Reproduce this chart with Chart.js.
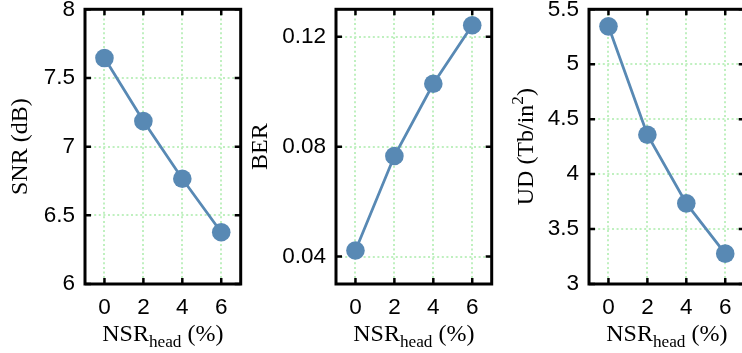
<!DOCTYPE html>
<html><head><meta charset="utf-8">
<script src="https://cdn.jsdelivr.net/npm/chart.js"></script>
<style>
html,body{margin:0;padding:0;width:742px;height:353px;overflow:hidden;background:#fff;}
canvas{position:absolute;top:0;}
</style></head><body>
<canvas id="c1" width="250" height="353" style="left:0px"></canvas>
<canvas id="c2" width="250" height="353" style="left:251px"></canvas>
<canvas id="c3" width="250" height="353" style="left:504px"></canvas>
<script>
// ---- data ----
const nsrHead = [0, 2, 4, 6];
const xTicks = [0, 2, 4, 6];
const xTickLabels = ['0', '2', '4', '6'];
const snrValues = [7.645, 7.186, 6.766, 6.377];
const berValues = [0.0422, 0.0766, 0.1029, 0.1242];
const udValues = [5.345, 4.358, 3.734, 3.276];
const snrTicks = [6, 6.5, 7, 7.5, 8];
const snrTickLabels = ['6', '6.5', '7', '7.5', '8'];
const berTicks = [0.04, 0.08, 0.12];
const berTickLabels = ['0.04', '0.08', '0.12'];
const udTicks = [3, 3.5, 4, 4.5, 5, 5.5];
const udTickLabels = ['3', '3.5', '4', '4.5', '5', '5.5'];
const xTitle = [{t: 'NSR'}, {t: 'head', sub: true}, {t: ' (%)'}];
const snrTitle = [{t: 'SNR (dB)'}];
const berTitle = [{t: 'BER'}];
const udTitle = [{t: 'UD (Tb/in'}, {t: '2', sup: true}, {t: ')'}];

// ---- style ----
const C = '#5889b4';
const G = '#bff0bf';
const TICK_FONT = 'Liberation Sans';
const TICK_SIZE = 22.5;
const TITLE_FONT = 'Liberation Serif';
const TITLE_SIZE = 24;

function segFont(s) {
  const sz = (s.sub || s.sup) ? TITLE_SIZE * 0.72 : TITLE_SIZE;
  return sz + 'px "' + TITLE_FONT + '"';
}
function drawRich(ctx, segs) {
  let w = 0;
  for (const s of segs) { ctx.font = segFont(s); w += ctx.measureText(s.t).width; }
  let x = -w / 2;
  ctx.textAlign = 'left';
  ctx.textBaseline = 'alphabetic';
  for (const s of segs) {
    ctx.font = segFont(s);
    const dy = s.sub ? TITLE_SIZE * 0.24 : (s.sup ? -TITLE_SIZE * 0.4 : 0);
    ctx.fillText(s.t, x, dy);
    x += ctx.measureText(s.t).width;
  }
}

const framePlugin = {
  id: 'frame',
  afterDraw(chart, args, o) {
    const {ctx, chartArea: a, scales: {x, y}} = chart;
    ctx.save();
    ctx.strokeStyle = '#000';
    ctx.lineWidth = 2.5;
    const L = 6;
    ctx.beginPath();
    for (const v of o.xt) {
      const px = x.getPixelForValue(v);
      ctx.moveTo(px, a.bottom); ctx.lineTo(px, a.bottom - L);
      ctx.moveTo(px, a.top); ctx.lineTo(px, a.top + L);
    }
    for (const v of o.yt) {
      const py = y.getPixelForValue(v);
      ctx.moveTo(a.left, py); ctx.lineTo(a.left + L, py);
      ctx.moveTo(a.right, py); ctx.lineTo(a.right - L, py);
    }
    ctx.stroke();
    ctx.lineWidth = 3;
    ctx.strokeRect(a.left, a.top, a.right - a.left, a.bottom - a.top);
    ctx.fillStyle = '#000';
    // x title
    ctx.save();
    ctx.translate((a.left + a.right) / 2, 341);
    drawRich(ctx, xTitle);
    ctx.restore();
    // y title
    ctx.save();
    ctx.translate(a.left - o.yOff, (a.top + a.bottom) / 2);
    ctx.rotate(-Math.PI / 2);
    drawRich(ctx, o.yTitle);
    ctx.restore();
    ctx.restore();
  }
};

function makeChart(id, values, yMin, yMax, yTicks, yLabels, yTitle, yOff) {
  return new Chart(document.getElementById(id), {
    type: 'line',
    data: {
      datasets: [{
        data: nsrHead.map((v, i) => ({x: v, y: values[i]})),
        borderColor: C, backgroundColor: C,
        pointBackgroundColor: C, pointBorderColor: C,
        pointBorderWidth: 0, pointRadius: 9.3, pointHoverRadius: 9.3,
        borderWidth: 2.8, tension: 0, clip: false
      }]
    },
    options: {
      responsive: false, animation: false, devicePixelRatio: 1,
      layout: {padding: {top: 9, right: 5, left: 0, bottom: 0}},
      events: [],
      plugins: {
        legend: {display: false}, tooltip: {enabled: false},
        frame: {xt: xTicks, yt: yTicks, yTitle: yTitle, yOff: yOff}
      },
      scales: {
        x: {
          type: 'linear', min: -1, max: 7,
          afterBuildTicks: s => { s.ticks = xTicks.map(v => ({value: v})); },
          afterFit: s => { s.height = 69; s.paddingLeft = 0; s.paddingRight = 0; s.paddingTop = 0; s.paddingBottom = 0; },
          grid: {color: G, lineWidth: 2, drawTicks: false},
          border: {display: false, dash: [2, 2.6]},
          ticks: {
            font: {family: TICK_FONT, size: TICK_SIZE}, color: '#000', padding: 10,
            maxRotation: 0, autoSkip: false,
            callback: (v, i) => xTickLabels[i]
          }
        },
        y: {
          type: 'linear', min: yMin, max: yMax,
          afterBuildTicks: s => { s.ticks = yTicks.map(v => ({value: v})); },
          afterFit: s => { s.width = 85; s.paddingLeft = 0; s.paddingRight = 0; s.paddingTop = 0; s.paddingBottom = 0; },
          grid: {color: G, lineWidth: 2, drawTicks: false},
          border: {display: false, dash: [2, 2.6]},
          ticks: {
            font: {family: TICK_FONT, size: TICK_SIZE}, color: '#000', padding: 10,
            autoSkip: false,
            callback: (v, i) => yLabels[i]
          }
        }
      }
    },
    plugins: [framePlugin]
  });
}

makeChart('c1', snrValues, 6, 8, snrTicks, snrTickLabels, snrTitle, 58);
makeChart('c2', berValues, 0.03, 0.13, berTicks, berTickLabels, berTitle, 69.5);
makeChart('c3', udValues, 3, 5.5, udTicks, udTickLabels, udTitle, 56.5);
</script>
</body></html>
